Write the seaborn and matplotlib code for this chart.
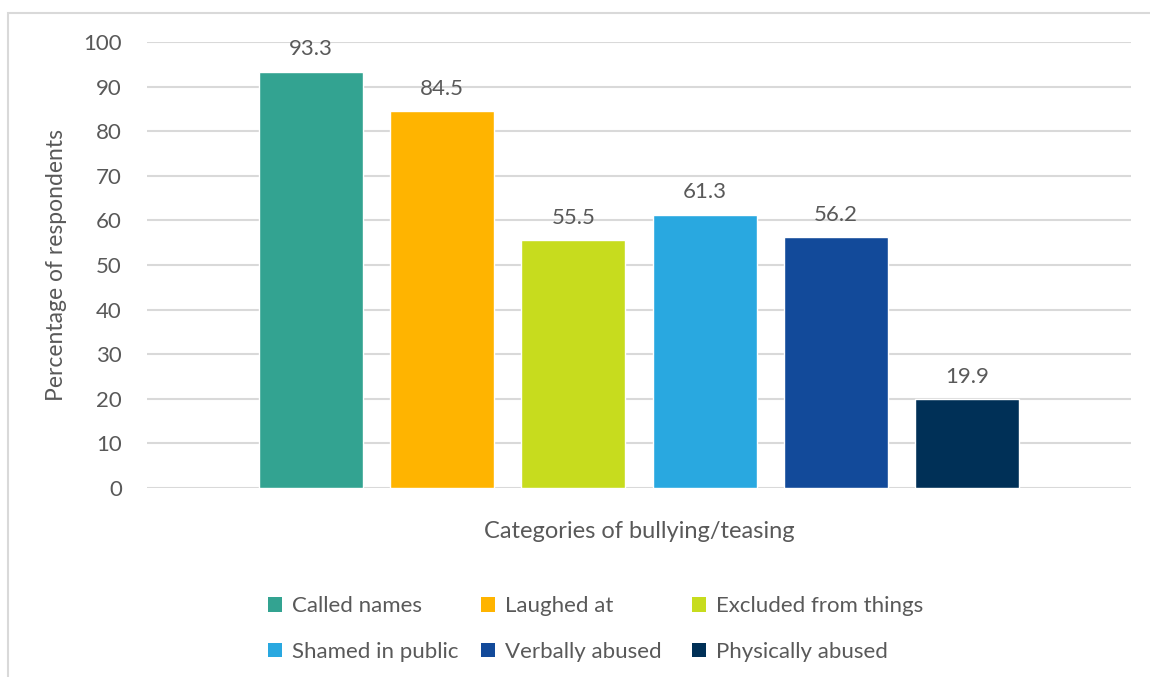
import matplotlib
matplotlib.use("Agg")
import matplotlib.pyplot as plt
from matplotlib.patches import Patch, Rectangle
import seaborn as sns
import pandas as pd

categories = ["Called names", "Laughed at", "Excluded from things",
              "Shamed in public", "Verbally abused", "Physically abused"]
values = [93.3, 84.5, 55.5, 61.3, 56.2, 19.9]
colors = ["#33A391", "#FFB400", "#C7DC1E", "#29A8E0", "#124A9A", "#003057"]
yticks = [0, 10, 20, 30, 40, 50, 60, 70, 80, 90, 100]

sns.set_theme(style="white")
plt.rcParams["font.family"] = ["Lato", "DejaVu Sans"]
txt = "#595959"

df = pd.DataFrame({"cat": categories, "val": values})

fig = plt.figure(figsize=(11.5, 6.77), dpi=100)
ax = fig.add_axes([147/1150, 1-488/677, (1131-147)/1150, (488-42)/677])

step = 131.2
sns.barplot(data=df, x="cat", y="val", hue="cat", palette=colors,
            dodge=False, width=104/step, legend=False, ax=ax, saturation=1)

ax.set_ylim(0, 100)
ax.set_xlim(-164/step, 820/step)
ax.set_yticks(yticks)
ax.set_yticklabels([str(t) for t in yticks], fontsize=16, color=txt)
ax.set_xticks([])
ax.tick_params(axis="y", length=0, pad=18)
ax.yaxis.grid(True, color="#d9d9d9", linewidth=1.5)
ax.set_axisbelow(True)
for s in ax.spines.values():
    s.set_visible(False)

for c in ax.containers:
    ax.bar_label(c, fmt="%.1f", padding=9, fontsize=16, color=txt)

ax.set_ylabel("Percentage of respondents", fontsize=16.5, color=txt, labelpad=12)
ax.set_xlabel("Categories of bullying/teasing", fontsize=17, color=txt, labelpad=24)

# legend: 3 columns of fixed width, 2 rows (row-major order)
col_x = [268, 481, 692]
for j, x in enumerate(col_x):
    idx = [j, j + 3]
    handles = [Patch(facecolor=colors[i], edgecolor="none") for i in idx]
    labels = [categories[i] for i in idx]
    fig.legend(handles, labels, loc="center left", bbox_to_anchor=(x/1150, 1-629/677),
               frameon=False, fontsize=16, labelcolor=txt, handlelength=0.65,
               handleheight=0.65, handletextpad=0.45, labelspacing=1.15,
               borderpad=0, borderaxespad=0)

fig.patches.append(Rectangle((8/1150, -0.1), 1.2, 1-13/677+0.1, transform=fig.transFigure,
                             fill=False, edgecolor="#d9d9d9", linewidth=1.5))

fig.savefig("out.png", dpi=100, facecolor="white")
